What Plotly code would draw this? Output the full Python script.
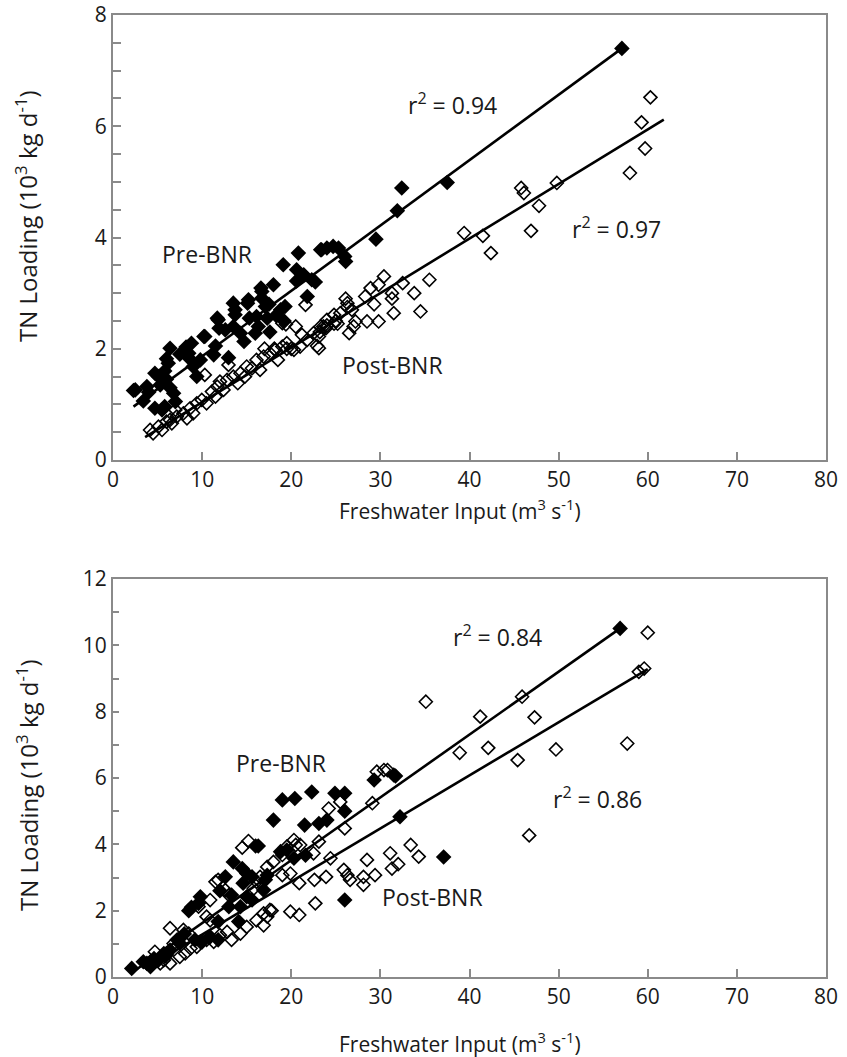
import plotly.graph_objects as go

# ---------------- Top panel data ----------------
top_pre_x = [2.3, 2.5, 3.4, 3.8, 4.0, 4.7, 4.7, 5.1, 5.5, 5.3, 5.8, 5.8, 6.0, 6.2, 6.4, 6.4, 6.8, 7.0, 6.0,
             7.5, 8.2, 8.5, 8.8, 8.6, 9.0, 9.4, 9.8, 10.2, 10.3, 11.3, 11.5, 11.7, 11.8, 11.9, 12.6, 12.96,
             13.5, 13.7, 13.5, 13.7, 14.3, 14.7, 15.1, 15.2, 15.3, 15.96, 16.1, 16.3, 16.6, 16.7, 16.7, 17.1,
             17.3, 17.5, 17.6, 18.0, 18.3, 18.8, 19.2, 19.3, 19.1, 20.6, 20.8, 20.6, 21.4, 21.8, 22.3, 22.7,
             23.3, 23.4, 24.0, 24.7, 25.3, 26.0, 26.1, 29.5, 31.9, 32.4, 37.5, 57.1]
top_pre_y = [1.25, 1.26, 1.06, 1.32, 1.22, 1.56, 0.93, 1.50, 0.90, 1.35, 1.60, 0.96, 1.45, 1.74, 1.30, 2.01,
             1.20, 1.05, 1.82, 1.90, 2.03, 1.92, 2.10, 1.82, 1.68, 1.50, 1.80, 2.22, 2.22, 1.89, 2.05, 2.55,
             2.52, 2.37, 2.34, 1.84, 2.82, 2.61, 2.40, 2.70, 2.28, 2.13, 2.82, 2.88, 2.55, 2.28, 2.58, 2.40,
             3.09, 2.91, 3.03, 2.76, 2.55, 2.80, 2.30, 3.15, 2.60, 2.70, 2.50, 2.76, 3.51, 3.22, 3.72, 3.42,
             3.33, 2.94, 3.24, 3.20, 3.78, 3.78, 3.81, 3.84, 3.81, 3.66, 3.57, 3.97, 4.48, 4.89, 4.99, 7.40]

top_post_x = [4.16, 4.5, 5.1, 5.5, 6.0, 6.4, 6.6, 7.15, 7.0, 7.9, 8.3, 8.65, 9.0, 9.4, 9.96, 10.3, 10.5,
              11.1, 11.5, 11.7, 12.0, 12.4, 12.8, 12.96, 13.5, 14.0, 14.3, 14.8, 15.0, 15.6, 16.1, 16.5,
              16.9, 17.0, 17.6, 18.1, 18.2, 18.5, 19.0, 19.0, 19.4, 19.5, 19.5, 20.0, 20.3, 20.5, 21.0,
              21.2, 21.6, 21.8, 22.5, 22.9, 23.1, 23.1, 23.2, 23.3, 23.6, 23.9, 24.0, 24.0, 24.8, 24.8,
              25.0, 25.2, 25.5, 26.1, 26.3, 26.3, 26.5, 26.8, 27.0, 27.2, 28.3, 28.5, 28.9, 29.3, 29.8,
              29.8, 30.4, 31.3, 31.3, 31.5, 32.5, 33.8, 34.5, 35.5, 39.4, 41.5, 42.4, 45.8, 46.1, 46.9,
              47.8, 49.8, 58.0, 59.3, 59.7, 60.3]
top_post_y = [0.54, 0.48, 0.60, 0.54, 0.69, 0.72, 0.66, 0.78, 0.90, 0.84, 0.75, 0.93, 0.84, 1.02, 1.08, 1.53,
              1.02, 1.23, 1.14, 1.32, 1.41, 1.26, 1.44, 1.71, 1.50, 1.38, 1.56, 1.50, 1.68, 1.65, 1.80, 1.62,
              1.86, 2.00, 1.92, 2.00, 1.98, 1.80, 2.04, 2.46, 2.44, 2.10, 2.00, 2.00, 1.98, 2.40, 2.04,
              2.25, 2.79, 2.16, 2.28, 2.05, 2.01, 2.22, 2.30, 2.40, 2.40, 2.37, 2.52, 2.42, 2.61, 2.45,
              2.50, 2.45, 2.64, 2.90, 2.82, 2.75, 2.28, 2.70, 2.40, 2.49, 2.94, 2.49, 3.09, 2.80, 3.15,
              2.49, 3.30, 2.90, 3.00, 2.64, 3.18, 3.00, 2.67, 3.24, 4.08, 4.03, 3.72, 4.89, 4.80, 4.12,
              4.57, 4.98, 5.16, 6.07, 5.60, 6.52]

# regression lines (slope, intercept, x-extent)
top_pre_fit = (0.1175, 0.69, 2.3, 57.1)
top_post_fit = (0.0981, 0.057, 3.6, 61.8)

# ---------------- Bottom panel data ----------------
bot_pre_x = [2.1, 3.4, 3.8, 4.2, 4.6, 5.1, 5.7, 6.0, 6.4, 7.2, 7.5, 8.0, 8.5, 8.8, 9.2, 9.6, 9.8, 10.0, 10.9,
             11.8, 11.8, 12.0, 12.6, 13.0, 13.3, 13.5, 14.1, 14.3, 14.5, 14.6, 15.0, 15.0, 15.6, 15.6,
             16.0, 16.3, 16.9, 17.1, 17.3, 18.0, 18.8, 19.0, 19.5, 20.3, 20.4, 21.5, 21.6, 22.3, 23.1,
             24.0, 24.9, 26.0, 26.0, 26.0, 29.3, 31.5, 31.7, 32.2, 37.1, 56.9]
bot_pre_y = [0.26, 0.46, 0.41, 0.31, 0.56, 0.51, 0.71, 0.66, 0.81, 1.12, 1.01, 1.30, 2.00, 2.10, 1.12, 2.22,
             2.42, 1.06, 1.21, 1.67, 1.12, 2.60, 3.02, 2.12, 2.47, 3.47, 1.67, 2.12, 3.27, 2.83, 3.12, 2.42,
             3.02, 2.32, 3.95, 3.95, 2.62, 2.93, 3.07, 4.73, 3.78, 5.34, 3.83, 3.58, 5.38, 4.58, 3.67, 5.58,
             4.63, 4.73, 5.54, 5.54, 5.00, 2.32, 5.94, 6.09, 6.06, 4.83, 3.62, 10.51]

bot_post_x = [4.2, 4.7, 5.3, 5.7, 6.0, 6.4, 6.4, 6.8, 7.5, 7.9, 8.1, 8.5, 8.7, 9.4, 9.6, 9.8, 10.5, 10.5,
              10.9, 10.9, 11.3, 11.5, 11.8, 12.0, 12.6, 12.8, 13.0, 13.3, 14.3, 14.5, 15.0, 15.2, 15.8,
              16.1, 16.1, 16.5, 16.9, 16.9, 17.3, 17.3, 17.6, 17.8, 18.0, 19.0, 19.0, 19.5, 19.9, 19.9,
              20.3, 20.5, 20.9, 20.9, 21.0, 22.5, 22.6, 22.7, 23.1, 23.9, 24.2, 24.4, 25.5, 25.9, 26.0,
              26.3, 26.6, 28.1, 28.1, 28.5, 29.1, 29.4, 29.6, 30.4, 30.8, 31.1, 31.3, 32.0, 33.4, 34.3,
              35.1, 38.9, 41.2, 42.1, 45.4, 45.9, 46.7, 47.3, 49.7, 57.7, 59.0, 59.6, 60.0]
bot_post_y = [0.46, 0.76, 0.41, 0.51, 0.71, 1.47, 0.41, 1.01, 0.61, 1.42, 0.71, 1.31, 0.86, 0.91, 2.12, 1.06,
              1.82, 1.12, 2.32, 1.71, 1.06, 2.87, 2.93, 1.26, 2.62, 1.36, 2.47, 1.12, 1.31, 3.90, 1.51, 4.10,
              2.67, 1.71, 2.87, 3.02, 1.56, 1.92, 1.82, 3.32, 2.02, 2.00, 3.47, 3.07, 3.68, 3.93, 3.12, 1.97,
              4.13, 3.98, 2.83, 1.87, 3.98, 3.73, 2.93, 2.22, 4.08, 3.02, 5.08, 3.58, 5.28, 3.23, 4.48,
              3.07, 2.93, 3.02, 2.78, 3.53, 5.24, 3.07, 6.19, 6.24, 6.24, 3.73, 3.27, 3.40, 3.98, 3.63,
              8.30, 6.76, 7.85, 6.91, 6.54, 8.45, 4.27, 7.83, 6.86, 7.04, 9.20, 9.30, 10.38]

bot_pre_fit = (0.1895, -0.27, 2.3, 56.9)
bot_post_fit = (0.16, -0.32, 4.0, 60.0)

x_ticks = [0, 10, 20, 30, 40, 50, 60, 70, 80]
top_y_ticks = [0, 2, 4, 6, 8]
bot_y_ticks = [0, 2, 4, 6, 8, 10, 12]

FONT = "Open Sans"
TXT = "#1a1a1a"
FRAME = "#8a8a8a"

W, H = 847, 1057


def px_x(p):
    return p / W


def px_y(p):
    return 1 - p / H


fig = go.Figure()


def add_panel(fig, pre_x, pre_y, post_x, post_y, pre_fit, post_fit, xa, ya):
    for fit in (pre_fit, post_fit):
        s, b, x0, x1 = fit
        fig.add_trace(go.Scatter(x=[x0, x1], y=[b + s * x0, b + s * x1], mode="lines",
                                 line=dict(color="black", width=2.6), xaxis=xa, yaxis=ya,
                                 showlegend=False, hoverinfo="skip"))
    fig.add_trace(go.Scatter(x=post_x, y=post_y, mode="markers", xaxis=xa, yaxis=ya,
                             marker=dict(symbol="diamond-open", size=10, color="black",
                                         line=dict(width=1.6, color="black")),
                             showlegend=False))
    fig.add_trace(go.Scatter(x=pre_x, y=pre_y, mode="markers", xaxis=xa, yaxis=ya,
                             marker=dict(symbol="diamond", size=12, color="black",
                                         line=dict(width=0)),
                             showlegend=False))


add_panel(fig, top_pre_x, top_pre_y, top_post_x, top_post_y, top_pre_fit, top_post_fit, "x", "y")
add_panel(fig, bot_pre_x, bot_pre_y, bot_post_x, bot_post_y, bot_pre_fit, bot_post_fit, "x2", "y2")

TICK_SIZE = 21
xdom = [px_x(113), px_x(826)]
common_x = dict(range=[0, 80], tickvals=x_ticks, ticks="inside", ticklen=8, tickwidth=1.5,
                tickcolor=FRAME, showline=True, linecolor=FRAME, linewidth=2, mirror=True,
                showgrid=False, zeroline=False, domain=xdom, ticklabeloverflow="allow",
                tickfont=dict(family=FONT, size=TICK_SIZE, color=TXT), automargin=False)

fig.update_layout(
    width=W, height=H,
    margin=dict(l=0, r=0, t=0, b=0),
    paper_bgcolor="white", plot_bgcolor="white",
    font=dict(family=FONT, color=TXT),
    xaxis=dict(**common_x, anchor="y"),
    yaxis=dict(range=[0, 8], tickvals=top_y_ticks, ticks="inside", ticklen=8, tickwidth=1.5,
               tickcolor=FRAME, showline=True, linecolor=FRAME, linewidth=2, mirror=True,
               showgrid=False, zeroline=False, domain=[px_y(460), px_y(15)], anchor="x",
               ticklabeloverflow="allow",
               minor=dict(dtick=0.5, ticks="inside", ticklen=8, tickwidth=1.5, tickcolor=FRAME),
               tickfont=dict(family=FONT, size=TICK_SIZE, color=TXT), automargin=False),
    xaxis2=dict(**common_x, anchor="y2"),
    yaxis2=dict(range=[0, 12], tickvals=bot_y_ticks, ticks="inside", ticklen=6, tickwidth=1.5,
                tickcolor=FRAME, showline=True, linecolor=FRAME, linewidth=2, mirror=True,
                showgrid=False, zeroline=False, domain=[px_y(977), px_y(579)], anchor="x2",
                ticklabeloverflow="allow",
                minor=dict(dtick=1, ticks="inside", ticklen=6, tickwidth=1.5, tickcolor=FRAME),
                tickfont=dict(family=FONT, size=TICK_SIZE, color=TXT), automargin=False),
)

ann_font = dict(family=FONT, size=23, color=TXT)
labels = [
    ("x", "y", 38.1, 6.40, "r<sup>2</sup> = 0.94"),
    ("x", "y", 56.5, 4.17, "r<sup>2</sup> = 0.97"),
    ("x", "y", 10.6, 3.70, "Pre-BNR"),
    ("x", "y", 31.4, 1.70, "Post-BNR"),
    ("x2", "y2", 43.1, 10.28, "r<sup>2</sup> = 0.84"),
    ("x2", "y2", 54.4, 5.40, "r<sup>2</sup> = 0.86"),
    ("x2", "y2", 18.9, 6.45, "Pre-BNR"),
    ("x2", "y2", 35.8, 2.41, "Post-BNR"),
]
for xr, yr, xv, yv, t in labels:
    fig.add_annotation(xref=xr, yref=yr, x=xv, y=yv, text=t, showarrow=False, font=ann_font,
                       xanchor="center", yanchor="middle")

ytitle = "TN Loading (10<sup>3</sup> kg d<sup>-1</sup>)"
xtitle = "Freshwater Input (m<sup>3</sup> s<sup>-1</sup>)"
for ty in (216, 785):
    fig.add_annotation(xref="paper", yref="paper", x=px_x(27), y=px_y(ty), text=ytitle,
                       textangle=-90, showarrow=False,
                       font=dict(family=FONT, size=24, color=TXT),
                       xanchor="center", yanchor="middle")
for ty in (509, 1042):
    fig.add_annotation(xref="paper", yref="paper", x=px_x(460), y=px_y(ty), text=xtitle,
                       showarrow=False, font=dict(family=FONT, size=21, color=TXT),
                       xanchor="center", yanchor="middle")

fig.write_html("out.html")
